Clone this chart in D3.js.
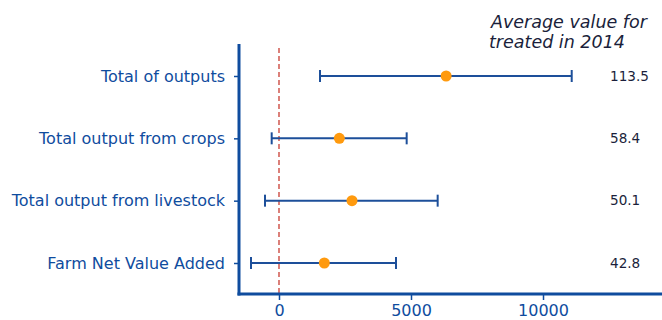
<!DOCTYPE html>
<html>
<head>
<meta charset="utf-8">
<script src="https://cdn.jsdelivr.net/npm/d3@7"></script>
<style>
  body { margin: 0; background: #fff; }
  svg { font-family: "DejaVu Sans", sans-serif; }
</style>
</head>
<body>
<div id="chart"></div>
<script>
(function(){
    var WIDTH  = 662,
        HEIGHT = 320,
        LEFT   = 239,
        RIGHT  = 662,
        TOP    = 44,
        BOTTOM = 294;

    // data
    var categories = ['Total of outputs', 'Total output from crops', 'Total output from livestock', 'Farm Net Value Added'];
    var estimates  = [6330, 2285, 2765, 1717];
    var lowers     = [1553, -277, -530, -1060];
    var uppers     = [11087, 4836, 6010, 4432];
    var averages   = ['113.5', '58.4', '50.1', '42.8'];
    var xTicks     = [0, 5000, 10000];
    var titleLines = ['Average value for', 'treated in 2014'];

    var AXIS_BLUE = '#0f4c9e',
        BAR_BLUE  = '#1d4f9a',
        DOT       = '#ff9a0e',
        ZERO_RED  = '#d0574e';

    var svg = d3.select('#chart').append('svg')
        .attr('width', WIDTH)
        .attr('height', HEIGHT);

    var x = d3.scaleLinear().domain([-1515, 14507]).range([LEFT, RIGHT]);
    var y = d3.scalePoint().domain(categories).range([76, 263]);

    // zero reference line
    svg.append('line')
        .attr('x1', x(0)).attr('x2', x(0))
        .attr('y1', TOP + 4).attr('y2', BOTTOM)
        .attr('stroke', ZERO_RED)
        .attr('stroke-width', 1.5)
        .attr('stroke-dasharray', '5,3');

    var rows = svg.append('g').selectAll('g')
        .data(categories)
        .enter().append('g');

    rows.append('line')
        .attr('x1', function(d, i){ return x(lowers[i]); })
        .attr('x2', function(d, i){ return x(uppers[i]); })
        .attr('y1', function(d){ return y(d); })
        .attr('y2', function(d){ return y(d); })
        .attr('stroke', BAR_BLUE).attr('stroke-width', 2);

    // caps
    [lowers, uppers].forEach(function(arr){
        rows.append('line')
            .attr('x1', function(d, i){ return x(arr[i]); })
            .attr('x2', function(d, i){ return x(arr[i]); })
            .attr('y1', function(d){ return y(d) - 6; })
            .attr('y2', function(d){ return y(d) + 6; })
            .attr('stroke', BAR_BLUE).attr('stroke-width', 2);
    });

    rows.append('circle')
        .attr('cx', function(d, i){ return x(estimates[i]); })
        .attr('cy', function(d){ return y(d); })
        .attr('r', 5.5)
        .attr('fill', DOT);

    rows.append('text')
        .attr('x', 610)
        .attr('y', function(d){ return y(d); })
        .attr('dy', '0.35em')
        .attr('font-size', '13.6px')
        .attr('fill', '#1b1f3b')
        .text(function(d, i){ return averages[i]; });

    // axes
    var xAxis = svg.append('g')
        .attr('transform', 'translate(0,' + BOTTOM + ')')
        .call(d3.axisBottom(x).tickValues(xTicks).tickSize(6).tickPadding(5).tickFormat(d3.format('d')));
    xAxis.select('.domain').remove();
    xAxis.append('line')
        .attr('x1', LEFT - 1.5).attr('x2', RIGHT)
        .attr('stroke', AXIS_BLUE).attr('stroke-width', 3);

    var yAxis = svg.append('g')
        .attr('transform', 'translate(' + LEFT + ',0)')
        .call(d3.axisLeft(y).tickSize(5).tickPadding(9));
    yAxis.select('.domain').remove();
    yAxis.append('line')
        .attr('y1', TOP).attr('y2', BOTTOM + 1.5)
        .attr('stroke', AXIS_BLUE).attr('stroke-width', 3);

    svg.selectAll('.tick line').attr('stroke', AXIS_BLUE).attr('stroke-width', 1.5);
    xAxis.selectAll('.tick text').attr('font-size', '16px').attr('fill', AXIS_BLUE).attr('font-family', 'DejaVu Sans');
    yAxis.selectAll('.tick text').attr('font-size', '16px').attr('fill', AXIS_BLUE).attr('font-family', 'DejaVu Sans');

    svg.append('text')
        .attr('font-size', '17.5px')
        .attr('font-style', 'italic')
        .attr('fill', '#1b1f3b')
        .selectAll('tspan')
        .data(titleLines)
        .enter().append('tspan')
        .attr('x', function(d, i){ return i === 0 ? 491 : 489; })
        .attr('y', function(d, i){ return 28 + i * 20; })
        .text(function(d){ return d; });

})();
</script>
</body>
</html>
